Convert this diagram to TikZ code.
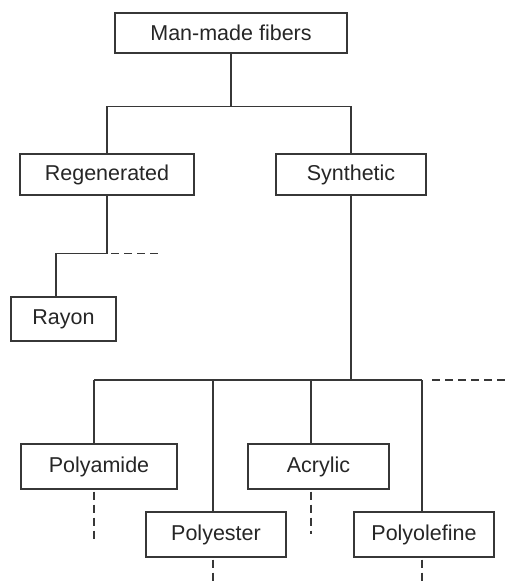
\documentclass[tikz,border=0pt]{standalone}
\usepackage{fontspec}
\setmainfont{Liberation Sans}
\usepackage{tikz}
\usetikzlibrary{positioning,calc}
\definecolor{linegray}{RGB}{55,55,55}
\tikzset{
  fibbox/.style={draw=linegray, line width=0.65pt, fill=white,
                 minimum width=#1, minimum height=22.5pt, inner sep=0pt,
                 font=\fontsize{10.75pt}{13pt}\selectfont, text=black!85},
  fibbox/.default=70pt,
  link/.style ={draw=linegray, line width=0.65pt},
  dlink/.style={link, dash pattern=on 4pt off 2.5pt},
}

\begin{document}
\begin{tikzpicture}[x=0.5pt,y=-0.5pt]
  \useasboundingbox (0,0) rectangle (508,583);

  \node[fibbox=116pt, minimum height=20pt]   (top) at (231,33)    {Man-made fibers};
  \node[fibbox=87pt,  minimum height=20.5pt] (reg) at (107,174.5) {Regenerated};
  \node[fibbox=75pt,  minimum height=20.5pt] (syn) at (351,174.5) {Synthetic};
  \node[fibbox=52.5pt, minimum height=22pt]  (ray) at (63.5,319)  {Rayon};
  \node[fibbox=78pt]   (pam) at (99,466.5)  {Polyamide};
  \node[fibbox=70.5pt] (acr) at (318.5,466.5) {Acrylic};
  \node[fibbox=70pt]   (pes) at (216,534.5) {Polyester};
  \node[fibbox=70pt]   (pol) at (424,534.5) {Polyolefine};

  % top level
  \draw[link] (top.south) -- ++(0,-26.5pt) coordinate (j1);
  \draw[link] (reg.north) |- (j1) -| (syn.north);

  % regenerated branch
  \draw[link] (reg.south) -- ++(0,-29pt) coordinate (j2) -| ([xshift=-3.75pt]ray.north);
  \draw[dlink] ([xshift=2pt]j2) -- ++(25pt,0) coordinate (e1);

  % synthetic branch
  \draw[link] (syn.south) -- ++(0,-92.5pt) coordinate (j3);
  \coordinate (b1) at (94,380);
  \coordinate (b2) at (213,380);
  \coordinate (b3) at (311,380);
  \coordinate (b4) at (422,380);
  \draw[link] (b1) -- (b4);
  \foreach \b/\n in {b1/pam,b2/pes,b3/acr,b4/pol}
    \draw[link] (\b) -- (\b |- \n.north);
  \draw[dlink] ([xshift=5pt]b4) -- ++(38pt,0) coordinate (e2);

  % open ends below
  \draw[dlink] ([yshift=-1pt]b1 |- pam.south) -- ++(0,-24pt);
  \draw[dlink] ([yshift=-1pt]b3 |- acr.south) -- ++(0,-21pt);
  \draw[dlink] ([yshift=-1pt]b2 |- pes.south) -- ++(0,-13pt);
  \draw[dlink] ([yshift=-1pt]b4 |- pol.south) -- ++(0,-13pt);
\end{tikzpicture}
\end{document}
